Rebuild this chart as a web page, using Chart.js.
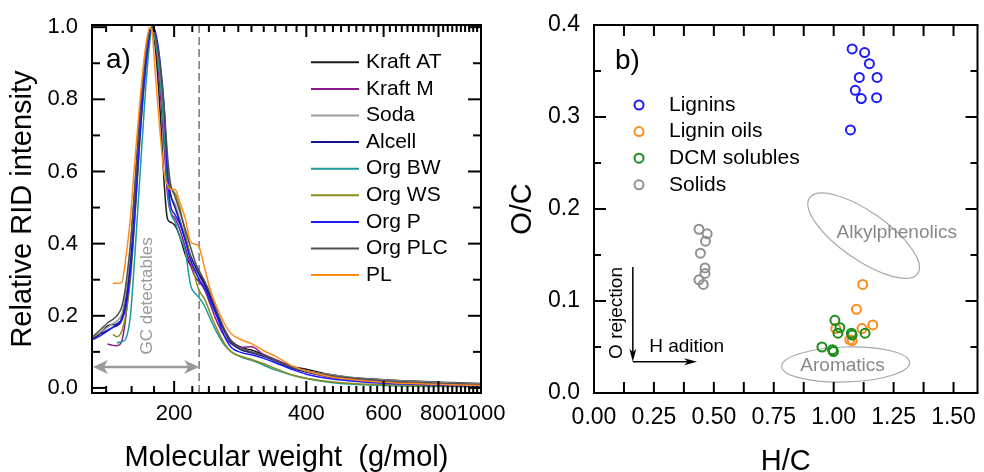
<!DOCTYPE html>
<html>
<head>
<meta charset="utf-8">
<script src="https://cdn.jsdelivr.net/npm/chart.js@4/dist/chart.umd.min.js"></script>
<style>
  html, body { margin: 0; padding: 0; background: #fff; }
  body { width: 984px; height: 472px; position: relative; overflow: hidden; }
  #left { position: absolute; left: 0; top: 0; width: 520px; height: 472px; }
  #right { position: absolute; left: 490px; top: 0; width: 494px; height: 472px; }
  #frames { position: absolute; left: 0; top: 0; width: 984px; height: 472px; z-index: 5; pointer-events: none; }
</style>
</head>
<body>
<canvas id="left" width="520" height="472"></canvas>
<canvas id="right" width="494" height="472"></canvas>
<canvas id="frames" width="984" height="472"></canvas>
<script>
// ---- panel a) : RID chromatograms, molecular weight (g/mol) vs relative intensity
const mw = [130, 136, 141, 145, 148, 152, 155, 159, 163, 167, 172, 176, 178, 181, 186, 190, 193, 196, 201, 206,
            212, 218, 224, 228, 235, 242, 250, 260, 270, 285, 300, 320, 340, 370, 400, 450, 500, 600, 700, 850, 1000];

const kraftAT = [0.135, 0.152, 0.172, 0.176, 0.175, 0.195, 0.25, 0.38, 0.56, 0.75, 0.92, 0.99, 1.0, 0.95, 0.76, 0.56, 0.47, 0.46, 0.45, 0.42,
                 0.37, 0.34, 0.325, 0.315, 0.29, 0.25, 0.205, 0.16, 0.13, 0.112, 0.105, 0.092, 0.078, 0.06, 0.052, 0.038, 0.03, 0.023, 0.019, 0.015, 0.012];
const kraftM = [null, null, 0.122, 0.118, 0.117, 0.13, 0.19, 0.32, 0.50, 0.70, 0.89, 0.98, 1.0, 0.97, 0.82, 0.66, 0.54, 0.49, 0.47, 0.44,
                0.39, 0.34, 0.305, 0.295, 0.27, 0.23, 0.185, 0.145, 0.122, 0.113, 0.114, 0.092, 0.078, 0.06, 0.045, 0.03, 0.022, 0.016, 0.012, 0.009, 0.006];
const soda = [0.14, 0.155, 0.168, 0.178, 0.185, 0.205, 0.26, 0.38, 0.56, 0.75, 0.92, 0.99, 1.0, 0.97, 0.86, 0.72, 0.60, 0.54, 0.51, 0.47,
              0.42, 0.37, 0.33, 0.31, 0.28, 0.24, 0.20, 0.155, 0.125, 0.105, 0.097, 0.087, 0.073, 0.057, 0.047, 0.037, 0.03, 0.022, 0.018, 0.014, 0.011];
const alcell = [null, 0.15, 0.16, 0.168, 0.172, 0.188, 0.23, 0.34, 0.51, 0.71, 0.90, 0.98, 1.0, 0.98, 0.87, 0.74, 0.61, 0.54, 0.50, 0.46,
                0.41, 0.365, 0.335, 0.315, 0.285, 0.25, 0.205, 0.16, 0.125, 0.105, 0.098, 0.088, 0.075, 0.056, 0.044, 0.032, 0.025, 0.017, 0.013, 0.01, 0.008];
const orgBW = [null, null, null, null, 0.125, 0.128, 0.135, 0.20, 0.38, 0.58, 0.82, 0.96, 1.0, 0.97, 0.85, 0.70, 0.56, 0.49, 0.46, 0.42,
               0.38, 0.285, 0.26, 0.25, 0.225, 0.19, 0.155, 0.12, 0.10, 0.085, 0.077, 0.063, 0.05, 0.036, 0.026, 0.016, 0.011, 0.007, 0.005, 0.004, 0.003];
const orgWS = [null, null, null, 0.148, 0.142, 0.158, 0.20, 0.30, 0.48, 0.68, 0.88, 0.98, 1.0, 0.98, 0.88, 0.75, 0.63, 0.56, 0.54, 0.50,
               0.43, 0.36, 0.30, 0.27, 0.245, 0.205, 0.165, 0.125, 0.10, 0.087, 0.079, 0.067, 0.054, 0.037, 0.027, 0.018, 0.013, 0.009, 0.007, 0.005, 0.004];
const orgP = [0.133, 0.145, 0.158, 0.168, 0.178, 0.19, 0.22, 0.32, 0.49, 0.69, 0.88, 0.98, 1.0, 0.99, 0.90, 0.77, 0.60, 0.51, 0.48, 0.455,
              0.41, 0.355, 0.32, 0.30, 0.275, 0.24, 0.20, 0.145, 0.112, 0.098, 0.092, 0.082, 0.07, 0.052, 0.038, 0.026, 0.02, 0.013, 0.01, 0.007, 0.005];
const orgPLC = [0.14, 0.162, 0.18, 0.19, 0.20, 0.225, 0.28, 0.40, 0.57, 0.76, 0.93, 0.99, 1.0, 0.98, 0.89, 0.77, 0.65, 0.57, 0.53, 0.49,
                0.44, 0.39, 0.345, 0.325, 0.295, 0.26, 0.215, 0.165, 0.13, 0.11, 0.10, 0.09, 0.076, 0.058, 0.046, 0.035, 0.028, 0.02, 0.016, 0.012, 0.009];
const pl = [null, null, null, 0.29, 0.29, 0.292, 0.355, 0.47, 0.64, 0.79, 0.94, 1.0, 0.99, 0.88, 0.70, 0.59, 0.565, 0.55, 0.55, 0.515,
            0.47, 0.405, 0.398, 0.39, 0.33, 0.27, 0.225, 0.18, 0.15, 0.133, 0.123, 0.103, 0.088, 0.062, 0.047, 0.032, 0.024, 0.016, 0.012, 0.009, 0.007];

const seriesNames = ['Kraft AT', 'Kraft M', 'Soda', 'Alcell', 'Org BW', 'Org WS', 'Org P', 'Org PLC', 'PL'];
const seriesValues = [kraftAT, kraftM, soda, alcell, orgBW, orgWS, orgP, orgPLC, pl];
const seriesColors = ['#1a1a1a', '#8c1a8c', '#9a9a9a', '#14148c', '#1a9a9a', '#8c8c1a', '#1a1aff', '#505050', '#ff8c1a'];

const mwTicks = [200, 400, 600, 800, 1000];
const ridTicks = [0, 0.2, 0.4, 0.6, 0.8, 1.0];
const gcLimit = 228;

// ---- panel b) : van Krevelen type plot
const groupNames = ['Lignins', 'Lignin oils', 'DCM solubles', 'Solids'];
const ligninsHC = [1.077, 1.129, 1.149, 1.107, 1.181, 1.090, 1.115, 1.179, 1.070];
const ligninsOC = [0.374, 0.370, 0.358, 0.343, 0.343, 0.329, 0.320, 0.321, 0.286];
const oilsHC = [1.121, 1.095, 1.163, 1.118, 1.009, 1.067, 1.077];
const oilsOC = [0.118, 0.091, 0.074, 0.070, 0.070, 0.058, 0.057];
const dcmHC = [1.005, 1.026, 1.018, 1.074, 1.077, 1.131, 0.951, 0.995, 0.999];
const dcmOC = [0.079, 0.071, 0.065, 0.065, 0.063, 0.065, 0.050, 0.047, 0.045];
const solidsHC = [0.438, 0.472, 0.465, 0.444, 0.463, 0.463, 0.438, 0.456];
const solidsOC = [0.178, 0.173, 0.165, 0.152, 0.136, 0.130, 0.123, 0.118];
const groupColors = ['#1a1aff', '#ff8c1a', '#1a8c1a', '#909090'];

const hcTicks = [0, 0.25, 0.5, 0.75, 1.0, 1.25, 1.5];
const ocTicks = [0, 0.1, 0.2, 0.3, 0.4];

const FONT = "'Liberation Sans', Arial, sans-serif";
Chart.defaults.font.family = FONT;
Chart.defaults.color = '#000';
Chart.defaults.animation = false;

function steps(lo, hi, step) {
  const out = [];
  for (let v = lo; v <= hi + step / 1000; v += step) out.push(+v.toFixed(6));
  return out;
}
const isIn = (v, list) => list.some(m => Math.abs(m - v) < 1e-6);

function arrowHead(ctx, tx, ty, ang, len, half) {
  ctx.save();
  ctx.translate(tx, ty);
  ctx.rotate(ang);
  ctx.beginPath();
  ctx.moveTo(0, 0);
  ctx.lineTo(-len, -half);
  ctx.lineTo(-len * 0.72, 0);
  ctx.lineTo(-len, half);
  ctx.closePath();
  ctx.fill();
  ctx.restore();
}

// frame + inward ticks, placed from the chart's own scales; ox shifts into page coordinates
function drawFrame(ctx, chart, len, ox) {
  const a = chart.chartArea;
  const sx = chart.scales.x, sy = chart.scales.y;
  ctx.save();
  ctx.setLineDash([]);
  ctx.globalAlpha = 1;
  ctx.strokeStyle = '#000';
  ctx.lineWidth = 2;
  const line = (x1, y1, x2, y2) => {
    ctx.beginPath(); ctx.moveTo(ox + x1, y1); ctx.lineTo(ox + x2, y2); ctx.stroke();
  };
  line(a.left - 1, a.top, a.right + 1, a.top);
  line(a.left - 1, a.bottom, a.right + 1, a.bottom);
  line(a.left, a.top, a.left, a.bottom);
  line(a.right, a.top, a.right, a.bottom);
  sx.ticks.forEach(t => {
    const p = sx.getPixelForValue(t.value);
    if (!(p >= a.left - 1 && p <= a.right + 1)) return;
    const l = t.label ? len.xMajor : len.xMinor;
    line(p, a.top, p, a.top + l);
    line(p, a.bottom, p, a.bottom - l);
  });
  sy.ticks.forEach(t => {
    const p = sy.getPixelForValue(t.value);
    if (!(p >= a.top - 1 && p <= a.bottom + 1)) return;
    const l = t.label ? len.yMajor : len.yMinor;
    line(a.left, p, a.left + l, p);
    line(a.right, p, a.right - l, p);
  });
  ctx.restore();
}

function drawLegend(chart, o) {
  const ctx = chart.ctx;
  ctx.save();
  ctx.font = o.size + 'px ' + FONT;
  ctx.textBaseline = 'middle';
  chart.data.datasets.forEach((ds, i) => {
    const yy = o.y0 + i * o.dy;
    ctx.strokeStyle = ds.borderColor;
    ctx.lineWidth = 2;
    ctx.beginPath();
    if (o.marker) {
      ctx.arc(o.x0, yy, 4.5, 0, Math.PI * 2);
    } else {
      ctx.moveTo(o.x0, yy); ctx.lineTo(o.x0 + o.len, yy);
    }
    ctx.stroke();
    ctx.fillStyle = '#000';
    ctx.fillText(ds.label, o.textX, yy);
  });
  ctx.restore();
}

const leftTickLen = {xMajor: 12, xMinor: 7, yMajor: 13, yMinor: 8};
const rightTickLen = {xMajor: 11, xMinor: 11, yMajor: 12, yMinor: 7};

const gcNotes = {
  id: 'gcNotes',
  beforeDatasetsDraw(chart) {
    const {ctx, chartArea: a, scales: {x, y}} = chart;
    const gx = x.getPixelForValue(gcLimit);
    ctx.save();
    ctx.strokeStyle = '#808080';
    ctx.lineWidth = 1.6;
    ctx.setLineDash([8, 4]);
    ctx.beginPath(); ctx.moveTo(gx, a.top); ctx.lineTo(gx, a.bottom); ctx.stroke();
    ctx.setLineDash([]);
    // GC detectable range arrow
    const ay = y.getPixelForValue(0.058);
    const x0 = a.left + 1;
    ctx.strokeStyle = '#9a9a9a';
    ctx.fillStyle = '#9a9a9a';
    ctx.lineWidth = 2.5;
    ctx.beginPath(); ctx.moveTo(x0 + 10, ay); ctx.lineTo(gx - 10, ay); ctx.stroke();
    arrowHead(ctx, x0, ay, Math.PI, 15, 7);
    arrowHead(ctx, gx, ay, 0, 15, 7);
    ctx.translate(x.getPixelForValue(174), y.getPixelForValue(0.255));
    ctx.rotate(-Math.PI / 2);
    ctx.font = '17px ' + FONT;
    ctx.textAlign = 'center';
    ctx.textBaseline = 'middle';
    ctx.fillText('GC detectables', 0, 0);
    ctx.restore();
  },
  afterDraw(chart) {
    const {ctx, chartArea: a} = chart;
    drawLegend(chart, {x0: 311, len: 48, textX: 366, y0: 62.3, dy: 26.6, size: 21});
    ctx.save();
    ctx.font = '28px ' + FONT;
    ctx.fillStyle = '#000';
    ctx.textBaseline = 'middle';
    ctx.fillText('a)', a.left + 14, a.top + 35);
    ctx.restore();
  }
};

const vkNotes = {
  id: 'vkNotes',
  beforeDatasetsDraw(chart) {
    const {ctx, scales: {x, y}} = chart;
    ctx.save();
    ctx.strokeStyle = '#a8a8a8';
    ctx.lineWidth = 1.2;
    ctx.beginPath();
    ctx.ellipse(x.getPixelForValue(1.125), y.getPixelForValue(0.171), 66, 24, 35 * Math.PI / 180, 0, Math.PI * 2);
    ctx.stroke();
    ctx.beginPath();
    ctx.ellipse(x.getPixelForValue(1.05), y.getPixelForValue(0.031), 64, 17.5, -0.03, 0, Math.PI * 2);
    ctx.stroke();
    ctx.font = '19px ' + FONT;
    ctx.fillStyle = '#888';
    ctx.textAlign = 'center';
    ctx.textBaseline = 'middle';
    ctx.fillText('Alkylphenolics', x.getPixelForValue(1.263), y.getPixelForValue(0.174));
    ctx.fillText('Aromatics', x.getPixelForValue(1.037), y.getPixelForValue(0.0293));

    // O rejection / H adition arrows
    const ox = x.getPixelForValue(0.162), oy = y.getPixelForValue(0.034);
    const topY = y.getPixelForValue(0.137), endX = x.getPixelForValue(0.43);
    ctx.strokeStyle = '#000';
    ctx.fillStyle = '#000';
    ctx.lineWidth = 1.5;
    ctx.beginPath();
    ctx.moveTo(ox, topY); ctx.lineTo(ox, oy - 6);
    ctx.moveTo(ox, oy); ctx.lineTo(endX - 6, oy);
    ctx.stroke();
    arrowHead(ctx, ox, oy, Math.PI / 2, 13, 3.5);
    arrowHead(ctx, endX, oy, 0, 13, 3.5);
    ctx.textAlign = 'left';
    ctx.fillText('H adition', x.getPixelForValue(0.23), y.getPixelForValue(0.05));
    ctx.save();
    ctx.translate(x.getPixelForValue(0.0946), y.getPixelForValue(0.087));
    ctx.rotate(-Math.PI / 2);
    ctx.textAlign = 'center';
    ctx.fillText('O rejection', 0, 0);
    ctx.restore();
    ctx.restore();
  },
  afterDraw(chart) {
    const {ctx, chartArea: a} = chart;
    drawLegend(chart, {marker: true, x0: 149, textX: 179, y0: 105, dy: 26.6, size: 21});
    ctx.save();
    ctx.font = '28px ' + FONT;
    ctx.fillStyle = '#000';
    ctx.textBaseline = 'middle';
    ctx.fillText('b)', a.left + 21, a.top + 36);
    ctx.restore();
  }
};

// ---------- chart a)
const leftChart = new Chart(document.getElementById('left'), {
  type: 'line',
  data: {
    datasets: seriesNames.map((name, i) => ({
      label: name,
      data: mw.map((m, j) => ({x: m, y: seriesValues[i][j]})),
      borderColor: seriesColors[i],
      borderWidth: 1.5,
      pointRadius: 0,
      fill: false,
      cubicInterpolationMode: 'monotone',
      order: -i
    }))
  },
  options: {
    responsive: false,
    layout: {padding: {left: 0, right: 39, top: 25, bottom: 0}},
    plugins: {legend: {display: false}, tooltip: {enabled: false}},
    scales: {
      x: {
        type: 'logarithmic',
        min: 130,
        max: 1000,
        afterBuildTicks: s => { s.ticks = steps(140, 1000, 20).map(v => ({value: v})); },
        afterFit: s => { s.height = 79; s.paddingLeft = 0; s.paddingRight = 0; },
        grid: {display: false, drawTicks: false},
        border: {display: false},
        ticks: {
          autoSkip: false, maxRotation: 0, minRotation: 0, padding: 8,
          font: {size: 22}, color: '#000',
          callback: v => isIn(v, mwTicks) ? String(v) : ''
        },
        title: {display: true, text: 'Molecular weight  (g/mol)', color: '#000',
                font: {size: 29, lineHeight: 1}, padding: {top: 0, bottom: 0}}
      },
      y: {
        min: -0.014,
        max: 1.006,
        afterBuildTicks: s => { s.ticks = steps(0, 1, 0.1).map(v => ({value: v})); },
        afterFit: s => { s.width = 92; s.paddingTop = 0; s.paddingBottom = 0; },
        grid: {display: false, drawTicks: false},
        border: {display: false},
        ticks: {
          autoSkip: false, padding: 14, font: {size: 22}, color: '#000',
          callback: v => isIn(v, ridTicks) ? v.toFixed(1) : ''
        },
        title: {display: true, text: 'Relative RID intensity', color: '#000',
                font: {size: 29, lineHeight: 1}, padding: {top: 8.5, bottom: 0}}
      }
    }
  },
  plugins: [gcNotes]
});

// ---------- chart b)
const groupHC = [ligninsHC, oilsHC, dcmHC, solidsHC];
const groupOC = [ligninsOC, oilsOC, dcmOC, solidsOC];

const rightChart = new Chart(document.getElementById('right'), {
  type: 'scatter',
  data: {
    datasets: groupNames.map((name, i) => ({
      label: name,
      data: groupHC[i].map((h, j) => ({x: h, y: groupOC[i][j]})),
      borderColor: groupColors[i],
      backgroundColor: 'rgba(0,0,0,0)',
      borderWidth: 2,
      pointRadius: 4.5,
      pointHoverRadius: 4.5,
      order: -i
    }))
  },
  options: {
    responsive: false,
    layout: {padding: {left: 0, right: 1, top: 25, bottom: 0}},
    plugins: {legend: {display: false}, tooltip: {enabled: false}},
    scales: {
      x: {
        type: 'linear',
        min: 0,
        max: 1.6,
        afterBuildTicks: s => { s.ticks = steps(0, 1.5, 0.125).map(v => ({value: v})); },
        afterFit: s => { s.height = 79; s.paddingLeft = 0; s.paddingRight = 0; },
        grid: {display: false, drawTicks: false},
        border: {display: false},
        ticks: {
          autoSkip: false, maxRotation: 0, minRotation: 0, padding: 10.5,
          font: {size: 23}, color: '#000',
          callback: v => isIn(v, hcTicks) ? v.toFixed(2) : ''
        },
        title: {display: true, text: 'H/C', color: '#000',
                font: {size: 29, lineHeight: 1}, padding: {top: 0, bottom: -4}}
      },
      y: {
        min: 0,
        max: 0.4,
        afterBuildTicks: s => { s.ticks = steps(0, 0.4, 0.05).map(v => ({value: v})); },
        afterFit: s => { s.width = 104; s.paddingTop = 0; s.paddingBottom = 0; },
        grid: {display: false, drawTicks: false},
        border: {display: false},
        ticks: {
          autoSkip: false, padding: 14, font: {size: 23}, color: '#000',
          callback: v => isIn(v, ocTicks) ? v.toFixed(1) : ''
        },
        title: {display: true, text: 'O/C', color: '#000',
                font: {size: 29, lineHeight: 1}, padding: {top: 18.5, bottom: 0}}
      }
    }
  },
  plugins: [vkNotes]
});

// frames and inward ticks on a separate top canvas, positioned from both charts' scales
const fctx = document.getElementById('frames').getContext('2d');
drawFrame(fctx, leftChart, leftTickLen, 0);
drawFrame(fctx, rightChart, rightTickLen, 490);
</script>
</body>
</html>
